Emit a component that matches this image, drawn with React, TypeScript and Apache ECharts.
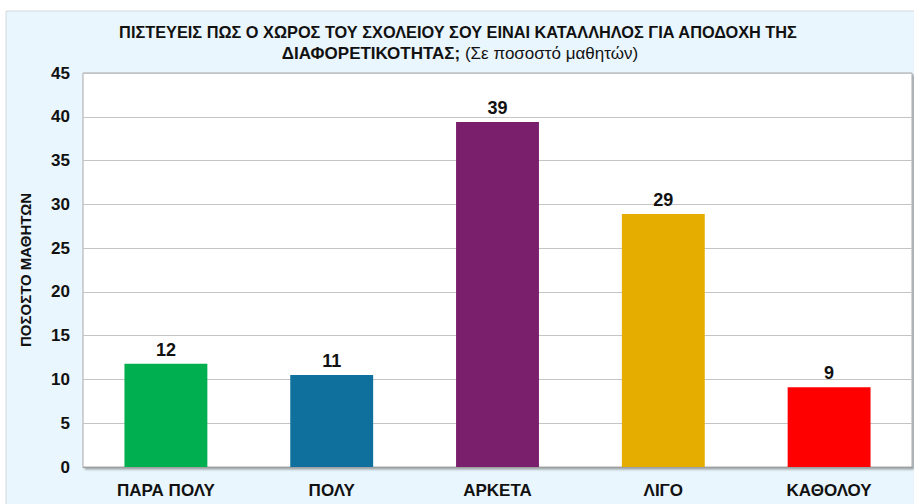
import React, { useEffect, useRef } from "react";
import * as echarts from "echarts";

const categories = ["ΠΑΡΑ ΠΟΛΥ", "ΠΟΛΥ", "ΑΡΚΕΤΑ", "ΛΙΓΟ", "ΚΑΘΟΛΟΥ"];
const values = [11.8, 10.5, 39.4, 28.9, 9.1];
const barColors = ["#00B050", "#0F709E", "#791F6B", "#E4AD00", "#FF0000"];
const yTicks = { min: 0, max: 45, interval: 5 };
const titleLine1 = "ΠΙΣΤΕΥΕΙΣ ΠΩΣ Ο ΧΩΡΟΣ ΤΟΥ ΣΧΟΛΕΙΟΥ ΣΟΥ ΕΙΝΑΙ ΚΑΤΑΛΛΗΛΟΣ ΓΙΑ ΑΠΟΔΟΧΗ ΤΗΣ";
const titleLine2Bold = "ΔΙΑΦΟΡΕΤΙΚΟΤΗΤΑΣ;";
const titleLine2Normal = " (Σε ποσοστό μαθητών)";
const yAxisName = "ΠΟΣΟΣΤΟ ΜΑΘΗΤΩΝ";

const FONT = "'Liberation Sans', Arial, sans-serif";

export default function App() {
  const ref = useRef<HTMLDivElement>(null);
  useEffect(() => {
    if (!ref.current) return;
    const chart = echarts.init(ref.current, null, { renderer: "svg" });
    chart.setOption({
      animation: false,
      backgroundColor: "#ffffff",
      graphic: [
        {
          type: "rect",
          z: -10,
          shape: { x: 6, y: 11, width: 920, height: 500 },
          style: { fill: "#EAF6FD", stroke: "#D4D8DC", lineWidth: 1 },
        },
        {
          type: "text",
          x: 458,
          y: 32,
          scaleX: 0.96,
          style: {
            text: titleLine1,
            font: `bold 17px ${FONT}`,
            fill: "#111",
            align: "center",
            verticalAlign: "middle",
          },
        },
        {
          type: "text",
          x: 460,
          y: 53,
          style: {
            text: `{b|${titleLine2Bold}}{n|${titleLine2Normal}}`,
            align: "center",
            verticalAlign: "middle",
            rich: {
              b: { font: `bold 17px ${FONT}`, fill: "#111" },
              n: { font: `normal 17px ${FONT}`, fill: "#111" },
            },
          },
        },
      ],
      grid: {
        left: 83,
        top: 73,
        right: 2,
        bottom: 37,
        show: true,
        backgroundColor: "#ffffff",
        borderColor: "#A8A8A8",
        borderWidth: 1,
        shadowColor: "rgba(0,0,0,0.35)",
        shadowBlur: 2,
        shadowOffsetX: 2,
        shadowOffsetY: 2,
      },
      xAxis: {
        type: "category",
        data: categories,
        axisTick: { show: false },
        axisLine: { show: true, lineStyle: { color: "#A0A0A0", width: 1 } },
        axisLabel: {
          margin: 15,
          color: "#111",
          fontWeight: "bold",
          fontSize: 17,
          fontFamily: FONT,
        },
      },
      yAxis: {
        type: "value",
        min: yTicks.min,
        max: yTicks.max,
        interval: yTicks.interval,
        name: yAxisName,
        nameLocation: "middle",
        nameGap: 50,
        nameTextStyle: {
          color: "#111",
          fontWeight: "bold",
          fontSize: 15,
          fontFamily: FONT,
        },
        axisLine: { show: false },
        axisTick: { show: false },
        splitLine: { lineStyle: { color: "#C4C4C4", width: 1 } },
        axisLabel: {
          margin: 13,
          color: "#111",
          fontWeight: "bold",
          fontSize: 17,
          fontFamily: FONT,
        },
      },
      series: [
        {
          type: "bar",
          barWidth: "50%",
          data: values.map((v, i) => ({ value: v, itemStyle: { color: barColors[i] } })),
          label: {
            show: true,
            position: "top",
            distance: 5,
            color: "#111",
            fontWeight: "bold",
            fontSize: 18,
            fontFamily: FONT,
            formatter: (p: any) => Math.round(p.value).toString(),
          },
        },
      ],
    });
    return () => chart.dispose();
  }, []);
  return (
    <div
      ref={ref}
      style={{ position: "fixed", left: 0, top: 0, width: 914, height: 504 }}
    />
  );
}
